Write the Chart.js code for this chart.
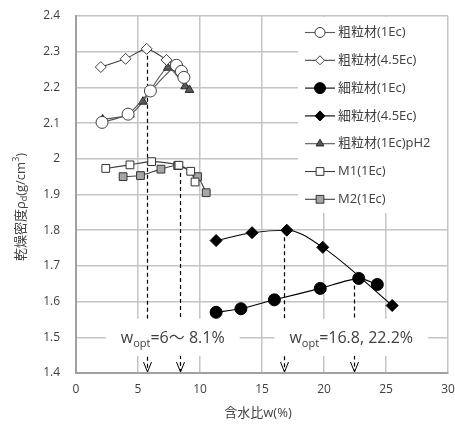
<!DOCTYPE html>
<html>
<head>
<meta charset="utf-8">
<script src="https://cdn.jsdelivr.net/npm/chart.js@4/dist/chart.umd.min.js"></script>
<style>
  html, body { margin: 0; padding: 0; background: #fff; overflow: hidden; }
  canvas { display: block; }
</style>
</head>
<body>
<canvas id="chart" width="455" height="428"></canvas>
<script>
'use strict';

// 含水比 w(%) と 乾燥密度 ρd(g/cm3) の読み取り値 [w, ρd]
const coarse1Ec   = [[2.1, 2.102], [4.2, 2.125], [6.0, 2.19], [8.1, 2.262], [8.5, 2.245], [8.7, 2.228]];
const coarse45Ec  = [[2.0, 2.257], [4.0, 2.28], [5.7, 2.308], [7.3, 2.277], [8.0, 2.258]];
const fine1Ec     = [[11.3, 1.57], [13.3, 1.58], [16.0, 1.605], [19.7, 1.637], [22.8, 1.665], [24.3, 1.648]];
const fine45Ec    = [[11.3, 1.771], [14.2, 1.793], [17.0, 1.80], [19.9, 1.752], [25.5, 1.589]];
const coarsePH2   = [[2.15, 2.11], [4.35, 2.124], [5.4, 2.16], [7.4, 2.255], [8.8, 2.203], [9.15, 2.193]];
const m1Ec        = [[2.4, 1.973], [4.35, 1.983], [6.1, 1.992], [8.3, 1.982], [9.25, 1.965], [9.6, 1.935]];
const m2Ec        = [[3.8, 1.95], [5.2, 1.953], [6.85, 1.971], [8.2, 1.981], [9.8, 1.95], [10.5, 1.905]];

const seriesNames = ['粗粒材(1Ec)', '粗粒材(4.5Ec)', '細粒材(1Ec)', '細粒材(4.5Ec)', '粗粒材(1Ec)pH2', 'M1(1Ec)', 'M2(1Ec)'];

// 最適含水比の破線 (w, 上端ρd)
const optW   = [5.7, 8.4, 16.8, 22.4];
const optRho = [2.308, 1.98, 1.80, 1.665];

// 注記ラベル (中心位置 w, ρd)
const noteLabels = [
  { main: '=6\u301c 8.1%', w: 7.8, rho: 1.5 },
  { main: '=16.8, 22.2%', w: 22.2, rho: 1.5 }
];

const xTicks = [0, 5, 10, 15, 20, 25, 30];

const FONT = "'Open Sans', 'Noto Sans CJK JP', sans-serif";
const TXT = '#404040';

const toXY = arr => arr.map(p => ({ x: p[0], y: p[1] }));

const styles = [
  { pointStyle: 'circle',   radius: 6,   bg: '#ffffff', border: '#404040', line: '#595959', lr: 5 },
  { pointStyle: 'rectRot',  radius: 5.5, bg: '#ffffff', border: '#404040', line: '#404040', lr: 4.5 },
  { pointStyle: 'circle',   radius: 6,   bg: '#000000', border: '#000000', line: '#000000', lr: 5.5 },
  { pointStyle: 'rectRot',  radius: 6,   bg: '#000000', border: '#000000', line: '#000000', lr: 5 },
  { pointStyle: 'triangle', radius: 5,   bg: '#595959', border: '#262626', line: '#595959', lr: 4.5 },
  { pointStyle: 'rect',     radius: 5.5, bg: '#ffffff', border: '#333333', line: '#404040', lr: 5.5 },
  { pointStyle: 'rect',     radius: 5.5, bg: '#a6a6a6', border: '#333333', line: '#404040', lr: 5.5 }
];

const seriesData = [coarse1Ec, coarse45Ec, fine1Ec, fine45Ec, coarsePH2, m1Ec, m2Ec];

const datasets = seriesData.map((d, i) => ({
  label: seriesNames[i],
  data: toXY(d),
  showLine: true,
  tension: 0.25,
  cubicInterpolationMode: i === 3 ? 'monotone' : 'default',
  borderColor: styles[i].line,
  borderWidth: 1.1,
  pointStyle: styles[i].pointStyle,
  pointRadius: styles[i].radius,
  pointBackgroundColor: styles[i].bg,
  pointBorderColor: styles[i].border,
  pointBorderWidth: 1
}));

function drawNote(ctx, cx, cy, main) {
  ctx.font = '16px ' + FONT;
  const wW = ctx.measureText('w').width;
  ctx.font = '11px ' + FONT;
  const wSub = ctx.measureText('opt').width;
  ctx.font = '16px ' + FONT;
  const wMain = ctx.measureText(main).width;
  const total = wW + wSub + wMain;
  const padX = 15, h = 37;
  ctx.fillStyle = '#ffffff';
  ctx.fillRect(cx - total / 2 - padX, cy - h / 2, total + 2 * padX, h);
  ctx.fillStyle = TXT;
  ctx.textAlign = 'left';
  ctx.textBaseline = 'alphabetic';
  let x = cx - total / 2;
  const base = cy + 6;
  ctx.font = '16px ' + FONT;
  ctx.fillText('w', x, base); x += wW;
  ctx.font = '11px ' + FONT;
  ctx.fillText('opt', x, base + 4); x += wSub;
  ctx.font = '16px ' + FONT;
  ctx.fillText(main, x, base);
}

const overlay = {
  id: 'overlay',
  beforeDatasetsDraw(chart) {
    const { ctx, scales: { x, y } } = chart;
    ctx.save();
    // 破線
    ctx.strokeStyle = '#000';
    ctx.lineWidth = 1.2;
    ctx.setLineDash([4, 3]);
    optW.forEach((w, i) => {
      const px = Math.round(x.getPixelForValue(w)) + 0.5;
      ctx.beginPath();
      ctx.moveTo(px, y.getPixelForValue(optRho[i]));
      ctx.lineTo(px, y.bottom - 2);
      ctx.stroke();
    });
    ctx.setLineDash([]);
    // 矢印
    ctx.lineWidth = 1;
    optW.forEach(w => {
      const px = Math.round(x.getPixelForValue(w)) + 0.5;
      ctx.beginPath();
      ctx.moveTo(px - 4, y.bottom - 11);
      ctx.lineTo(px, y.bottom - 1);
      ctx.lineTo(px + 4, y.bottom - 11);
      ctx.stroke();
    });
    // 注記
    noteLabels.forEach(n => drawNote(ctx, x.getPixelForValue(n.w), y.getPixelForValue(n.rho), n.main));

    // 凡例
    const lx = 298, ly = 17;
    ctx.fillStyle = '#ffffff';
    ctx.fillRect(lx, ly, 149, 196);
    chart.data.datasets.forEach((ds, i) => {
      const cy = 32.5 + i * 27.8;
      const st = styles[i];
      ctx.strokeStyle = st.line;
      ctx.lineWidth = 1.1;
      ctx.beginPath();
      ctx.moveTo(305, cy);
      ctx.lineTo(335, cy);
      ctx.stroke();
      ctx.fillStyle = st.bg;
      ctx.strokeStyle = st.border;
      ctx.lineWidth = 1;
      Chart.helpers.drawPoint(ctx, { pointStyle: st.pointStyle, radius: st.lr, rotation: 0, borderWidth: 1 }, 320, cy);
      ctx.fillStyle = TXT;
      ctx.font = '13px ' + FONT;
      ctx.textAlign = 'left';
      ctx.textBaseline = 'middle';
      ctx.fillText(ds.label, 338, cy);
    });
    ctx.restore();
  },
  afterDraw(chart) {
    const { ctx, chartArea } = chart;
    ctx.save();
    ctx.fillStyle = TXT;
    // x 軸タイトル
    ctx.font = '13px ' + FONT;
    ctx.textAlign = 'center';
    ctx.textBaseline = 'middle';
    ctx.fillText('含水比w(%)', (chartArea.left + chartArea.right) / 2 - 4, 413);
    // y 軸タイトル
    const parts = [
      { t: '乾燥密度ρ', s: 13, dy: 0 },
      { t: 'd', s: 9, dy: 3 },
      { t: '(g/cm', s: 13, dy: 0 },
      { t: '3', s: 9, dy: -5 },
      { t: ')', s: 13, dy: 0 }
    ];
    let total = 0;
    parts.forEach(p => { ctx.font = p.s + 'px ' + FONT; p.w = ctx.measureText(p.t).width; total += p.w; });
    ctx.translate(21, 207);
    ctx.rotate(-Math.PI / 2);
    ctx.textAlign = 'left';
    ctx.textBaseline = 'middle';
    let px = -total / 2;
    parts.forEach(p => {
      ctx.font = p.s + 'px ' + FONT;
      ctx.fillText(p.t, px, p.dy);
      px += p.w;
    });
    ctx.restore();
  }
};

new Chart(document.getElementById('chart'), {
  type: 'scatter',
  data: { datasets },
  options: {
    responsive: false,
    animation: false,
    layout: { padding: { left: 0, top: 16, right: 7, bottom: 0 } },
    plugins: { legend: { display: false }, tooltip: { enabled: false } },
    scales: {
      x: {
        type: 'linear',
        min: 0, max: 30,
        afterFit(scale) { scale.height = 55; scale.paddingLeft = 0; scale.paddingRight = 0; },
        afterBuildTicks(scale) { scale.ticks = xTicks.map(v => ({ value: v })); },
        grid: { color: '#c4c4c4', lineWidth: 1.5, drawTicks: false },
        border: { color: '#a0a0a0', width: 2 },
        ticks: { padding: 9, color: TXT, font: { family: FONT, size: 12 } }
      },
      y: {
        type: 'linear',
        min: 1.4, max: 2.4,
        afterFit(scale) { scale.width = 76; scale.paddingTop = 0; scale.paddingBottom = 0; },
        grid: { color: '#c4c4c4', lineWidth: 1.5, drawTicks: false },
        border: { color: '#a0a0a0', width: 2 },
        ticks: {
          stepSize: 0.1, padding: 16, color: TXT, font: { family: FONT, size: 12 },
          callback: v => String(Number(v.toFixed(1)))
        }
      }
    }
  },
  plugins: [overlay]
});
</script>
</body>
</html>
